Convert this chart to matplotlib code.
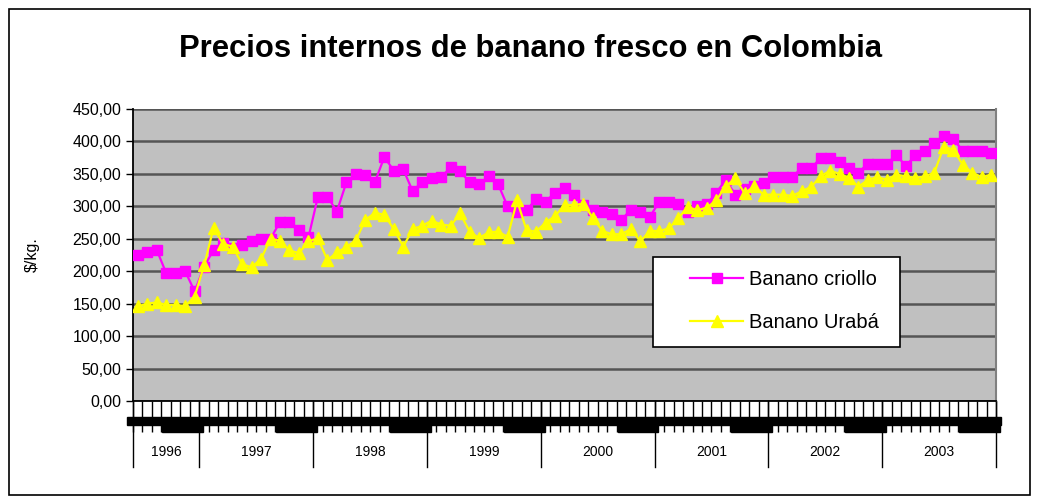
import matplotlib
matplotlib.use('Agg')
import matplotlib.pyplot as plt
import matplotlib.transforms as mtransforms
from matplotlib.patches import Rectangle
import numpy as np

plt.rcParams['font.family'] = ['Liberation Sans', 'DejaVu Sans']

# monthly prices, Jun 1996 - Dec 2003 ($/kg)
criollo = [225, 230, 233, 197, 197, 200, 169,
           207, 233, 243, 236, 240, 246, 250, 250, 276, 276, 264, 252,
           315, 315, 292, 337, 350, 348, 337, 376, 355, 357, 323, 338,
           343, 345, 360, 354, 337, 334, 346, 334, 300, 292, 294, 311,
           307, 321, 329, 317, 302, 295, 292, 288, 279, 295, 292, 284,
           307, 307, 304, 292, 300, 303, 321, 341, 318, 326, 331, 336,
           345, 345, 345, 359, 359, 374, 374, 369, 359, 352, 366, 366,
           366, 379, 362, 379, 386, 397, 408, 403, 386, 386, 386, 382]
uraba = [146, 150, 152, 148, 148, 146, 161,
         209, 267, 242, 238, 211, 206, 219, 250, 247, 232, 228, 246,
         251, 217, 229, 237, 248, 279, 290, 287, 265, 238, 265, 270,
         278, 272, 270, 289, 261, 251, 260, 261, 253, 309, 263, 261,
         275, 285, 302, 302, 304, 282, 262, 257, 257, 265, 246, 262,
         262, 266, 282, 299, 294, 298, 309, 331, 343, 320, 331, 318,
         318, 318, 316, 323, 330, 346, 355, 350, 344, 330, 341, 345,
         341, 349, 346, 344, 346, 352, 392, 387, 364, 352, 345, 349]
years = ['1996', '1997', '1998', '1999', '2000', '2001', '2002', '2003']
months_per_year = [7, 12, 12, 12, 12, 12, 12, 12]
yticks = [0, 50, 100, 150, 200, 250, 300, 350, 400, 450]

W, H = 1039, 504
fig = plt.figure(figsize=(W / 100, H / 100), dpi=100)
fig.patches.append(Rectangle((9 / W, 9 / H), 1021 / W, 486 / H, transform=fig.transFigure,
                             fill=False, edgecolor='black', lw=1.2))

ax = fig.add_axes([133 / W, 1 - 401 / H, 863 / W, 292 / H])
ax.set_facecolor('#C0C0C0')

x = np.arange(len(criollo))
ax.plot(x, criollo, color='#FF00FF', lw=1.6, marker='s', ms=6.5, mec='#FF00FF',
        label='Banano criollo', zorder=3)
ax.plot(x, uraba, color='#FFFF00', lw=1.6, marker='^', ms=8.5, mec='#FFFF00',
        label='Banano Urabá', zorder=4)

ax.set_ylim(0, 450)
ax.set_yticks(yticks)
ax.set_yticklabels([f'{v:.2f}'.replace('.', ',') for v in yticks], fontsize=11.5)
ax.yaxis.grid(True, color='#555555', lw=1.8)
ax.set_axisbelow(True)
ax.set_ylabel('$/kg.', fontsize=11.5)
ax.yaxis.set_label_coords(-93 / 863, 0.5)
ax.tick_params(axis='y', length=5, width=1)

n = len(criollo)
ax.set_xlim(-0.5, n - 0.5)
ax.set_xticks(np.arange(n + 1) - 0.5)
ax.set_xticklabels([])
ax.tick_params(axis='x', length=22, width=1, color='black')

ax.spines['top'].set_visible(False)
ax.spines['right'].set_color('#808080')
ax.spines['right'].set_linewidth(1.5)
ax.spines['left'].set_linewidth(1.3)
ax.spines['bottom'].set_linewidth(1.3)

trans = mtransforms.blended_transform_factory(ax.transData, ax.transAxes)
# garbled month label band
ax.add_patch(Rectangle((-1.1, -0.082), n + 1.1, 0.027, transform=trans,
                       color='black', clip_on=False, zorder=5))
bounds = np.concatenate([[0], np.cumsum(months_per_year)]) - 0.5
for b in bounds[1:]:
    ax.add_patch(Rectangle((b - 3.9, -0.106), 4.3, 0.026, transform=trans,
                           color='black', clip_on=False, zorder=5))
for b in bounds:
    ax.plot([b, b], [0, -0.226], transform=trans, color='black', lw=1,
            clip_on=False)
for i, yr in enumerate(years):
    ax.text((bounds[i] + bounds[i + 1]) / 2, -0.175, yr, transform=trans,
            ha='center', va='center', fontsize=10)

fig.text(531 / W, 1 - 49 / H, 'Precios internos de banano fresco en Colombia',
         ha='center', va='center', fontsize=22.3, fontweight='bold')

# legend box
ax.add_patch(Rectangle((653 / W, 1 - 347 / H), 247 / W, 90 / H,
                       transform=fig.transFigure, facecolor='white',
                       edgecolor='black', lw=1.2, zorder=6, clip_on=False))
leg = ax.legend(loc='center', bbox_to_anchor=(784.5 / W, 1 - 301 / H),
                bbox_transform=fig.transFigure, frameon=False, fontsize=14.5,
                handlelength=2.65, handletextpad=0.3, labelspacing=1.2,
                borderpad=0, borderaxespad=0)
leg.set_zorder(7)

fig.savefig('out.png', dpi=100)
